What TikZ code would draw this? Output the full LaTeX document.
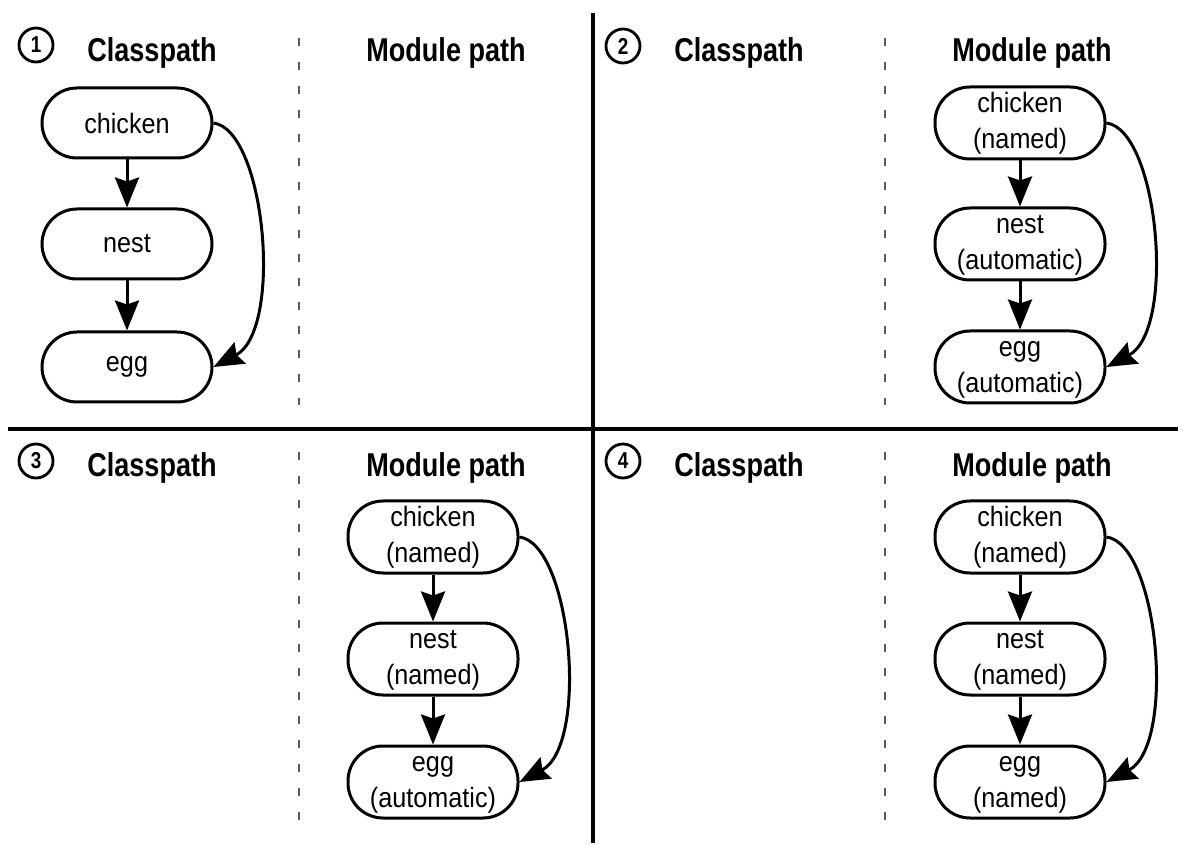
\documentclass[tikz,border=0pt]{standalone}
\usepackage{fontspec}
\setmainfont{Liberation Sans}
\newfontfamily\headfont[FakeStretch=0.82]{Liberation Sans}
\newfontfamily\boxfont[FakeStretch=0.9]{Liberation Sans}
\usetikzlibrary{arrows.meta}
\newcommand\twolines[2]{\raisebox{-3pt}{\begin{tabular}{@{}c@{}}#1\\#2\end{tabular}}}
\tikzset{
  box/.style={draw, line width=3pt, rounded corners=35pt, minimum width=170pt, minimum height=70pt, inner sep=0pt, align=center, font=\boxfont\fontsize{28}{36}\selectfont},
  head/.style={font=\headfont\bfseries\fontsize{33}{38}\selectfont, inner sep=0pt, anchor=base},
  num/.style={draw, circle, line width=2.8pt, minimum size=34pt, inner sep=0pt, font=\headfont\bfseries\fontsize{23}{24}\selectfont},
  arr/.style={line width=3pt, -{Stealth[length=30pt, width=24pt, inset=4pt]}},
  divider/.style={line width=3.2pt},
  sep/.style={draw=black!65, line width=1.4pt, dash pattern=on 8pt off 16pt}
}
\begin{document}
\begin{tikzpicture}[x=1pt, y=-1pt]
\useasboundingbox (0,0) rectangle (1187,858);
% dividers
\coordinate (vt) at (593,13);
\coordinate (vb) at (593,843);
\coordinate (hl) at (8,429);
\coordinate (hr) at (1178,429);
\draw[divider] (vt) -- (vb);
\draw[divider] (hl) -- (hr);
% dashed separators
\coordinate (d1t) at (299,38); \coordinate (d1b) at (299,405);
\coordinate (d2t) at (885,38); \coordinate (d2b) at (885,405);
\coordinate (d3t) at (299,452); \coordinate (d3b) at (299,820);
\coordinate (d4t) at (885,452); \coordinate (d4b) at (885,820);
\draw[sep] (d1t) -- (d1b);
\draw[sep] (d2t) -- (d2b);
\draw[sep] (d3t) -- (d3b);
\draw[sep] (d4t) -- (d4b);
% numbers
\node[num] (n1) at (36,45) {1};
\node[num] (n2) at (623,46) {2};
\node[num] (n3) at (36,461) {3};
\node[num] (n4) at (623,461) {4};
% headings
\node[head] (h1c) at (152,62) {Classpath};
\node[head] (h1m) at (446,62) {Module path};
\node[head] (h2c) at (739,62) {Classpath};
\node[head] (h2m) at (1032,62) {Module path};
\node[head] (h3c) at (152,477) {Classpath};
\node[head] (h3m) at (446,477) {Module path};
\node[head] (h4c) at (739,477) {Classpath};
\node[head] (h4m) at (1032,477) {Module path};
% panel 1
\node[box] (c1) at (127,123) {chicken};
\node[box] (ne1) at (127,244) {nest};
\node[box] (e1) at (127,367) {egg};
\draw[arr] (c1) -- (ne1);
\draw[arr] (ne1) -- (e1);
\draw[arr] (c1.east) .. controls +(52,7) and +(70,-37) .. (e1.east);
% panel 2
\node[box] (c2) at (1020,123) {\twolines{chicken}{(named)}};
\node[box] (ne2) at (1020,244) {\twolines{nest}{(automatic)}};
\node[box] (e2) at (1020,367) {\twolines{egg}{(automatic)}};
\draw[arr] (c2) -- (ne2);
\draw[arr] (ne2) -- (e2);
\draw[arr] (c2.east) .. controls +(52,7) and +(70,-37) .. (e2.east);
% panel 3
\node[box] (c3) at (433,537) {\twolines{chicken}{(named)}};
\node[box] (ne3) at (433,659) {\twolines{nest}{(named)}};
\node[box] (e3) at (433,782) {\twolines{egg}{(automatic)}};
\draw[arr] (c3) -- (ne3);
\draw[arr] (ne3) -- (e3);
\draw[arr] (c3.east) .. controls +(52,7) and +(70,-37) .. (e3.east);
% panel 4
\node[box] (c4) at (1020,537) {\twolines{chicken}{(named)}};
\node[box] (ne4) at (1020,659) {\twolines{nest}{(named)}};
\node[box] (e4) at (1020,782) {\twolines{egg}{(named)}};
\draw[arr] (c4) -- (ne4);
\draw[arr] (ne4) -- (e4);
\draw[arr] (c4.east) .. controls +(52,7) and +(70,-37) .. (e4.east);
\end{tikzpicture}
\end{document}
